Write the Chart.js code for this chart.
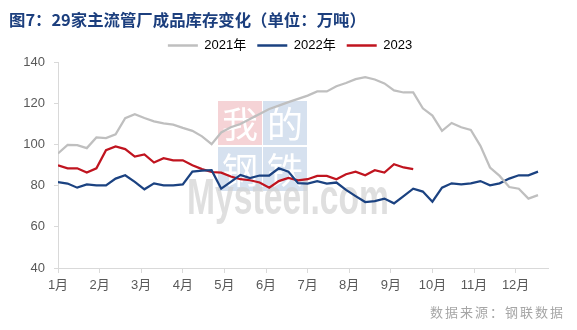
<!DOCTYPE html>
<html>
<head>
<meta charset="utf-8">
<script src="https://cdn.jsdelivr.net/npm/chart.js@4"></script>
<style>
  html, body { margin: 0; padding: 0; background: #fff; }
  #wrap { width: 577px; height: 330px; position: relative; }
</style>
</head>
<body>
<div id="wrap"><canvas id="stockChart"></canvas></div>
<script>
// weekly finished-goods inventory, 10k tonnes
var months = ['1月', '2月', '3月', '4月', '5月', '6月', '7月', '8月', '9月', '10月', '11月', '12月'];

var stock2021 = [95.6, 99.8, 99.6, 98.2, 103.4, 103.1, 104.9, 112.7, 114.6, 112.8,
  111.2, 110.2, 109.6, 108.0, 106.6, 103.9, 100.1, 105.8, 108.3, 109.9,
  112.3, 114.8, 117.2, 118.8, 120.5, 122.1, 123.7, 125.7, 125.7, 128.2,
  129.8, 131.7, 132.7, 131.5, 129.6, 126.2, 125.2, 125.2, 117.5, 114.0,
  106.6, 110.4, 108.3, 107.0, 99.3, 88.8, 84.7, 79.3, 78.5, 73.7, 75.4];

var stock2022 = [81.7, 81.0, 79.0, 80.6, 80.1, 80.1, 83.4, 85.0, 81.8, 78.2,
  81.1, 80.1, 80.1, 80.6, 86.8, 87.3, 87.5, 78.5, 81.8, 85.2,
  83.6, 84.9, 84.9, 88.4, 86.8, 81.2, 81.0, 82.2, 81.0, 81.5,
  77.9, 74.9, 72.0, 72.5, 73.7, 71.4, 74.9, 78.5, 77.1, 72.2,
  79.0, 81.1, 80.6, 81.1, 82.2, 80.1, 81.1, 83.4, 85.0, 85.0, 86.8];

var stock2023 = [89.9, 88.4, 88.4, 86.3, 88.4, 97.2, 99.0, 97.7, 94.1, 95.1,
  91.2, 93.3, 92.3, 92.3, 89.9, 88.0, 86.6, 86.3, 84.4, 83.1,
  82.6, 81.5, 79.0, 82.2, 83.7, 82.6, 83.1, 84.7, 84.7, 83.1,
  85.5, 86.8, 85.0, 87.5, 86.3, 90.4, 88.8, 88.0];

var yTicks = [40, 60, 80, 100, 120, 140];

function toPoints(arr) {
  return arr.map(function (v, i) { return { x: i, y: v }; });
}

var FONT = "'Liberation Sans', 'Noto Sans CJK SC', sans-serif";
var CJK = "'Noto Sans CJK SC', sans-serif";

var extras = {
  id: 'extras',
  afterLayout: function (chart) {
    // legend in the original sits a little right of centre
    chart.legend.left += 16;
    chart.legend.right += 16;
  },
  beforeDatasetsDraw: function (chart) {
    var c = chart.ctx;
    c.save();
    // watermark blocks
    var blocks = [
      [218, 101, '#f5d3d6', '我'], [263, 101, '#d6e1ef', '的'],
      [218, 147, '#d6e1ef', '钢'], [263, 147, '#d6e1ef', '铁']
    ];
    blocks.forEach(function (b) {
      c.fillStyle = b[2];
      c.fillRect(b[0], b[1], 44, 44);
      c.fillStyle = '#ffffff';
      c.font = '36px ' + CJK;
      c.textAlign = 'center';
      c.textBaseline = 'middle';
      c.fillText(b[3], b[0] + 22, b[1] + 23);
    });
    c.fillStyle = 'rgba(210,210,210,0.7)';
    c.font = 'bold 50px ' + FONT;
    c.textAlign = 'left';
    c.textBaseline = 'alphabetic';
    var w = c.measureText('Mysteel.com').width;
    c.translate(187, 214);
    c.scale(202 / w, 1);
    c.fillText('Mysteel.com', 0, 0);
    c.restore();
  },
  afterDraw: function (chart) {
    var c = chart.ctx;
    c.save();
    c.fillStyle = '#1c3f7e';
    c.font = 'bold 16.4px ' + CJK;
    c.textAlign = 'left';
    c.textBaseline = 'middle';
    c.fillText('图7：29家主流管厂成品库存变化（单位：万吨）', 9, 20);
    c.fillStyle = '#a6a6a6';
    c.font = '13px ' + CJK;
    c.textAlign = 'right';
    c.letterSpacing = '2px';
    c.fillText('数据来源：钢联数据', 565, 312);
    c.restore();
  }
};

var ctx = document.getElementById('stockChart');
var stockChart = new Chart(ctx, {
  type: 'line',
  data: {
    datasets: [
      { label: '2021年', data: toPoints(stock2021), borderColor: '#bfbfbf', backgroundColor: '#bfbfbf' },
      { label: '2022年', data: toPoints(stock2022), borderColor: '#1b4281', backgroundColor: '#1b4281' },
      { label: '2023', data: toPoints(stock2023), borderColor: '#c0141f', backgroundColor: '#c0141f' }
    ]
  },
  options: {
    responsive: true,
    maintainAspectRatio: false,
    animation: false,
    elements: {
      line: { borderWidth: 2.25, tension: 0 },
      point: { radius: 0 }
    },
    layout: { padding: { top: 28, right: 29, bottom: 36, left: 0 } },
    plugins: {
      title: { display: false },
      tooltip: { enabled: false },
      legend: {
        display: true,
        position: 'top',
        labels: {
          boxWidth: 30,
          boxHeight: 2.5,
          padding: 11,
          color: '#595959',
          font: { family: FONT, size: 13 },
          generateLabels: function (chart) {
            return chart.data.datasets.map(function (ds, i) {
              return {
                text: ds.label,
                fillStyle: ds.borderColor,
                strokeStyle: ds.borderColor,
                lineWidth: 0,
                hidden: false,
                datasetIndex: i
              };
            });
          }
        }
      }
    },
    scales: {
      x: {
        type: 'linear',
        min: 0,
        max: 51.04,
        afterBuildTicks: function (scale) {
          scale.ticks = months.map(function (m, i) { return { value: i * 52 / 12 }; });
        },
        afterFit: function (scale) { scale.height = 26; },
        grid: { drawOnChartArea: false, drawTicks: true, tickLength: 5, color: '#d9d9d9' },
        border: { color: '#d9d9d9' },
        ticks: {
          autoSkip: false,
          maxRotation: 0,
          padding: 5,
          color: '#595959',
          font: { family: FONT, size: 13 },
          callback: function (v, i) { return months[i]; }
        }
      },
      y: {
        min: 40,
        max: 140,
        afterBuildTicks: function (scale) {
          scale.ticks = yTicks.map(function (v) { return { value: v }; });
        },
        afterFit: function (scale) { scale.width = 58; },
        grid: { drawOnChartArea: false, drawTicks: true, tickLength: 4, color: '#d9d9d9' },
        border: { color: '#d9d9d9' },
        ticks: {
          padding: 9,
          color: '#595959',
          font: { family: FONT, size: 13 }
        }
      }
    }
  },
  plugins: [extras]
});
</script>
</body>
</html>
